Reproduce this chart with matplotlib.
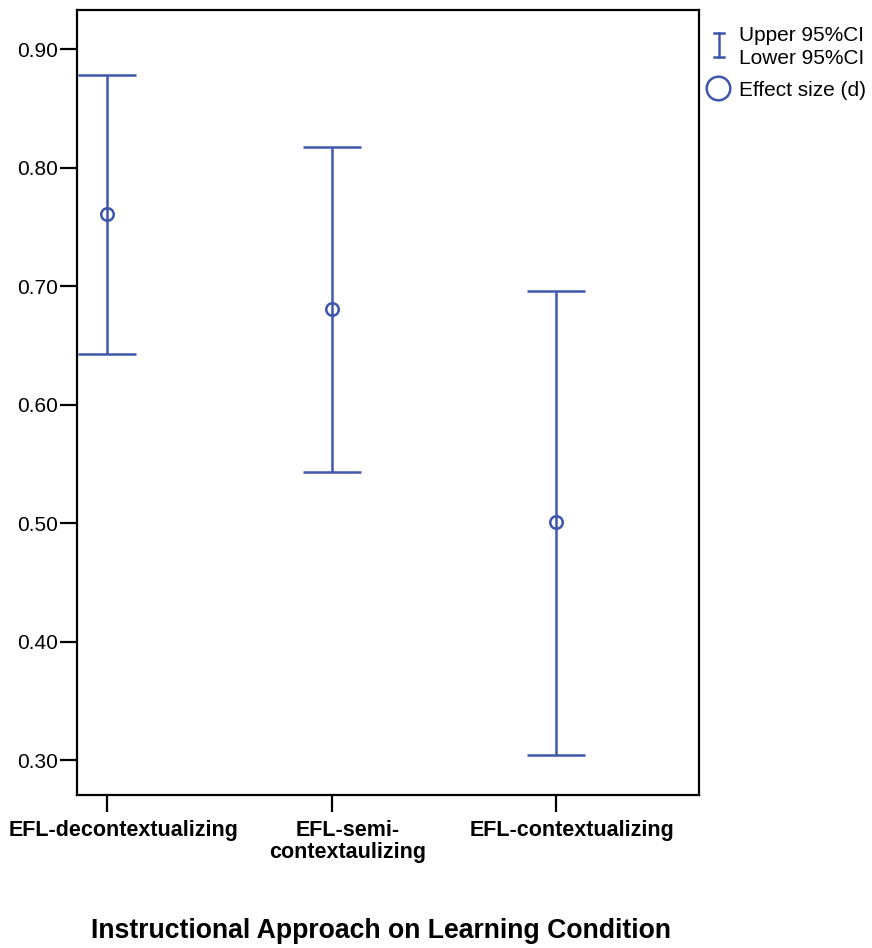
import matplotlib
matplotlib.use("Agg")
import matplotlib.pyplot as plt
from matplotlib.lines import Line2D
from matplotlib.transforms import ScaledTranslation
import numpy as np

plt.rcParams['font.family'] = ['Liberation Sans', 'DejaVu Sans']

# data
categories = ['EFL-decontextualizing', 'EFL-semi-\ncontextaulizing', 'EFL-contextualizing']
effect_size = [0.761, 0.681, 0.501]
upper_ci = [0.878, 0.817, 0.696]
lower_ci = [0.643, 0.543, 0.304]
yticks = [0.30, 0.40, 0.50, 0.60, 0.70, 0.80, 0.90]

blue = '#3f57ab'

fig = plt.figure(figsize=(8.72, 9.48), dpi=100)
ax = fig.add_axes([0.0883, 0.1614, 0.7133, 0.8281])

x = np.arange(len(categories))
eff = np.array(effect_size)
err = [eff - np.array(lower_ci), np.array(upper_ci) - eff]
ax.errorbar(x, eff, yerr=err, fmt='none', ecolor=blue, elinewidth=1.8,
            capsize=21, capthick=1.8)
ax.plot(x, eff, 'o', ms=9, mfc='none', mec=blue, mew=1.8)

ax.set_xlim(-0.134, 2.637)
ax.set_ylim(0.2705, 0.933)
ax.set_yticks(yticks)
ax.set_yticklabels(['%.2f' % v for v in yticks], fontsize=15)
ax.set_xticks(x)
ax.set_xticklabels(categories, fontsize=15.5, fontweight='bold',
                   linespacing=1.05)
ax.tick_params(axis='both', length=12, width=1.6, direction='out')
ax.tick_params(axis='x', pad=6)
ax.tick_params(axis='y', pad=1.5)
for s in ax.spines.values():
    s.set_linewidth(1.6)
# labels sit a little right of their ticks in the original
shift = ScaledTranslation(0.16, 0, fig.dpi_scale_trans)
for lab in ax.get_xticklabels():
    lab.set_transform(lab.get_transform() + shift)

fig.text(0.437, 0.004, 'Instructional Approach on Learning Condition',
         ha='center', va='bottom', fontsize=19.2, fontweight='bold')

# legend drawn outside the axes
fig.add_artist(Line2D([0.8245, 0.8245], [0.9395, 0.9655], color=blue, lw=1.8,
                      transform=fig.transFigure))
for yy in (0.9395, 0.9655):
    fig.add_artist(Line2D([0.8185, 0.8305], [yy, yy], color=blue, lw=1.8,
                          transform=fig.transFigure))
fig.add_artist(Line2D([0.8235], [0.907], marker='o', ms=17, mfc='none',
                      mec=blue, mew=1.8, transform=fig.transFigure))
fig.text(0.848, 0.963, 'Upper 95%CI', fontsize=15, va='center')
fig.text(0.848, 0.938, 'Lower 95%CI', fontsize=15, va='center')
fig.text(0.848, 0.905, 'Effect size (d)', fontsize=15, va='center')

fig.savefig('out.png', dpi=100)
